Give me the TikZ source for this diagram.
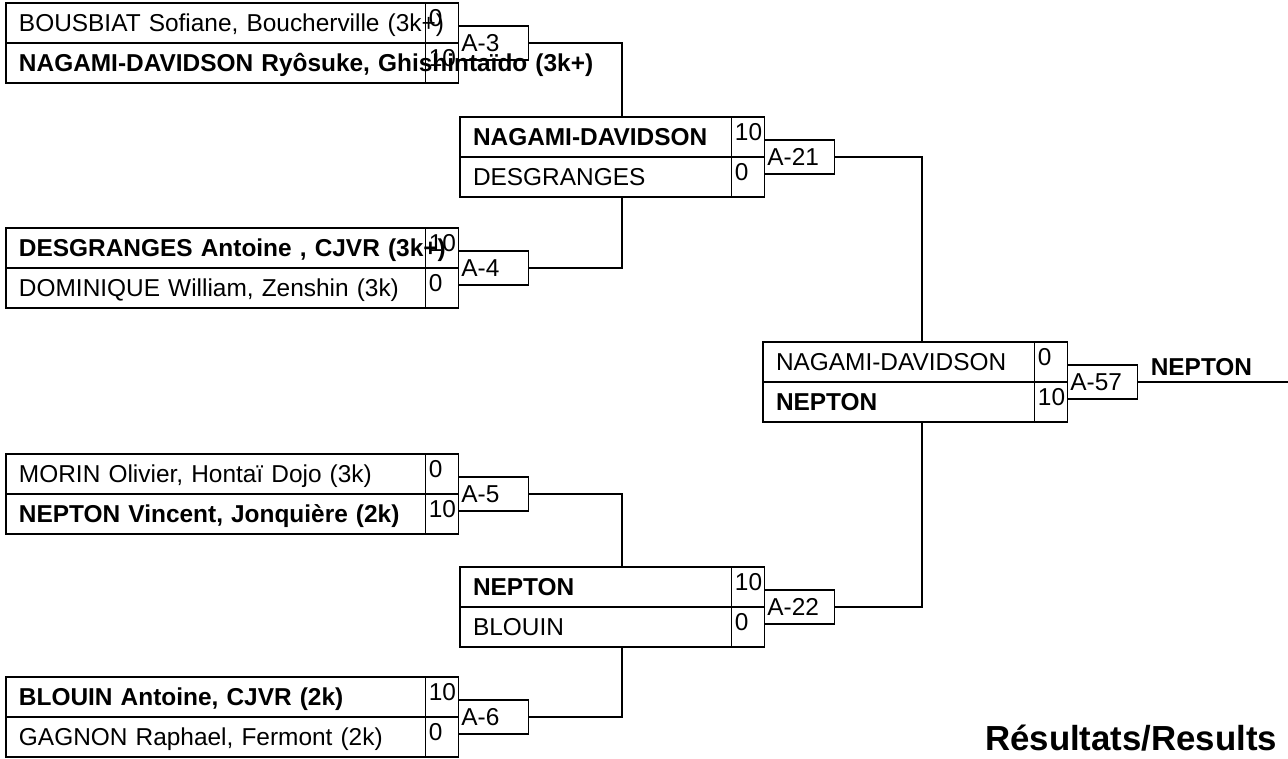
\documentclass[tikz,border=0pt]{standalone}
\usepackage{fontspec}
\setmainfont{Liberation Sans}
\usetikzlibrary{positioning,calc}

\begin{document}
\begin{tikzpicture}[x=0.02cm, y=-0.02cm, line width=0.6pt,
  every node/.style={font=\fontsize{13.9}{16}\selectfont, outer sep=0pt, inner ysep=0pt},
  namecell/.style={draw, anchor=north west, minimum height=0.8cm, inner xsep=0.26cm,
    text width=#1, align=left, text height=10pt, text depth=0pt},
  scorecell/.style={draw, minimum height=0.8cm, inner xsep=0.06cm,
    text width=0.54cm, align=left, text height=10pt, text depth=6pt},
  matchlbl/.style={draw, anchor=west, minimum height=0.68cm, inner xsep=0.05cm,
    text width=1.3cm, align=left, text height=10pt, text depth=0pt}]
\useasboundingbox (0,0) rectangle (1288,758);

% first round
\node[namecell=7.88cm] (m3a) at (6,3) {\rlap{BOUSBIAT Sofiane, Boucherville (3k+)}};
\node[scorecell, right=0pt of m3a] (m3as) {0};
\node[namecell=7.88cm] (m3b) at (m3a.south west) {\rlap{\bfseries NAGAMI-DAVIDSON Ryôsuke, Ghishintaïdo (3k+)}};
\node[scorecell, right=0pt of m3b] (m3bs) {10};
\node[matchlbl] (a3) at (m3as.south east) {A-3};

\node[namecell=7.88cm] (m4a) at (6,228) {\rlap{\bfseries DESGRANGES Antoine , CJVR (3k+)}};
\node[scorecell, right=0pt of m4a] (m4as) {10};
\node[namecell=7.88cm] (m4b) at (m4a.south west) {DOMINIQUE William, Zenshin (3k)};
\node[scorecell, right=0pt of m4b] (m4bs) {0};
\node[matchlbl] (a4) at (m4as.south east) {A-4};

\node[namecell=7.88cm] (m5a) at (6,454) {MORIN Olivier, Hontaï Dojo (3k)};
\node[scorecell, right=0pt of m5a] (m5as) {0};
\node[namecell=7.88cm] (m5b) at (m5a.south west) {\bfseries NEPTON Vincent, Jonquière (2k)};
\node[scorecell, right=0pt of m5b] (m5bs) {10};
\node[matchlbl] (a5) at (m5as.south east) {A-5};

\node[namecell=7.88cm] (m6a) at (6,677) {\bfseries BLOUIN Antoine, CJVR (2k)};
\node[scorecell, right=0pt of m6a] (m6as) {10};
\node[namecell=7.88cm] (m6b) at (m6a.south west) {GAGNON Raphael, Fermont (2k)};
\node[scorecell, right=0pt of m6b] (m6bs) {0};
\node[matchlbl] (a6) at (m6as.south east) {A-6};

% second round
\node[namecell=4.92cm] (m21a) at (460,117) {\bfseries NAGAMI-DAVIDSON};
\node[scorecell, right=0pt of m21a] (m21as) {10};
\node[namecell=4.92cm] (m21b) at (m21a.south west) {DESGRANGES};
\node[scorecell, right=0pt of m21b] (m21bs) {0};
\node[matchlbl] (a21) at (m21as.south east) {A-21};

\node[namecell=4.92cm] (m22a) at (460,567) {\bfseries NEPTON};
\node[scorecell, right=0pt of m22a] (m22as) {10};
\node[namecell=4.92cm] (m22b) at (m22a.south west) {BLOUIN};
\node[scorecell, right=0pt of m22b] (m22bs) {0};
\node[matchlbl] (a22) at (m22as.south east) {A-22};

% final
\node[namecell=4.92cm] (m57a) at (763,342) {NAGAMI-DAVIDSON};
\node[scorecell, right=0pt of m57a] (m57as) {0};
\node[namecell=4.92cm] (m57b) at (m57a.south west) {\bfseries NEPTON};
\node[scorecell, right=0pt of m57b] (m57bs) {10};
\node[matchlbl] (a57) at (m57as.south east) {A-57};

% connectors
\draw (a3.east) -| ($(m21a.north west)+(162,0)$);
\draw (a4.east) -| ($(m21b.south west)+(162,0)$);
\draw (a5.east) -| ($(m22a.north west)+(162,0)$);
\draw (a6.east) -| ($(m22b.south west)+(162,0)$);
\draw (a21.east) -| ($(m57a.north west)+(159,0)$);
\draw (a22.east) -| ($(m57b.south west)+(159,0)$);
\coordinate (champ) at (1288,0);
\draw (a57.east) -- (a57.east -| champ);
\node[anchor=base west, font=\fontsize{13.9}{16}\selectfont\bfseries] (win) at ($(a57.east)+(7,-7)$) {NEPTON};

\node[anchor=base east, font=\fontsize{19.8}{22}\selectfont\bfseries] (res) at (1283,750) {Résultats/Results};
\end{tikzpicture}
\end{document}
